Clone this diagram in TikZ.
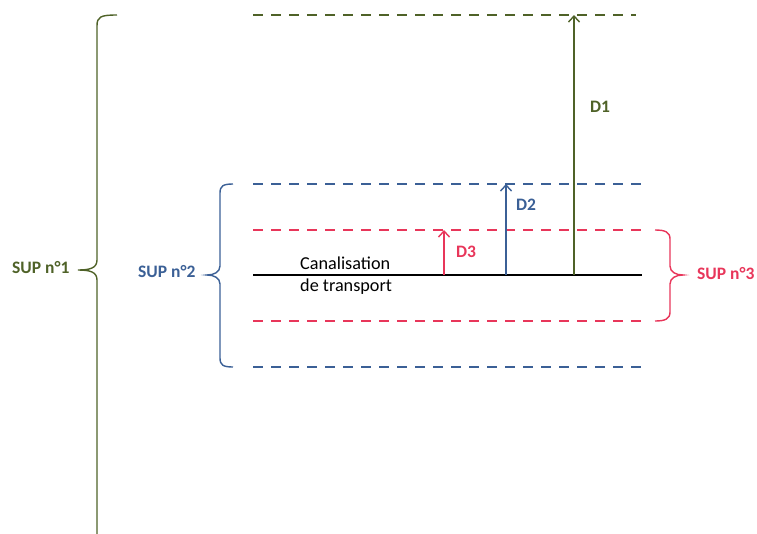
\documentclass[tikz,border=0pt]{standalone}
\usepackage{fontspec}
\setmainfont{Carlito}
\usetikzlibrary{arrows.meta}
\definecolor{supgreen}{RGB}{79,98,40}
\definecolor{supblue}{RGB}{59,96,150}
\definecolor{supred}{RGB}{232,54,90}
\tikzset{
  zone/.style={line width=2pt, dash pattern=on 10pt off 8pt},
  dist/.style={line width=1.4pt, -{Straight Barb[length=6pt,width=11pt,line width=1.4pt]}},
  lbl/.style={font=\bfseries\fontsize{17.5}{20}\selectfont, inner sep=0pt},
  brace/.style={line width=1.4pt}
}
\begin{document}
\begin{tikzpicture}[x=1pt,y=-1pt]
      \useasboundingbox (0,0) rectangle (757,533);

      % zones
      \draw[zone, supgreen] (253,15) -- (636,15);
      \foreach \y in {184,367}{
        \draw[zone, supblue] (253,\y) -- (642,\y);
      }
      \foreach \y in {230,321}{
        \draw[zone, supred] (253,\y) -- (642,\y);
      }

      % canalisation
      \coordinate (C0) at (253,275);
      \coordinate (C1) at (642,275);
      \draw[line width=2pt] (C0) -- (C1);
      \node[inner sep=0pt, anchor=west, align=left, font=\fontsize{18.2}{22}\selectfont] (can) at (300,276) {Canalisation\\de transport};

      % distances
      \coordinate (D1b) at (574,275);
      \coordinate (D1t) at (574,15);
      \coordinate (D2b) at (506,275);
      \coordinate (D2t) at (506,184);
      \coordinate (D3b) at (444,275);
      \coordinate (D3t) at (444,230);
      \draw[dist, supgreen] (D1b) -- (D1t);
      \draw[dist, supblue] (D2b) -- (D2t);
      \draw[dist, supred] (D3b) -- (D3t);
      \node[lbl, supgreen] (d1) at (600,107) {D1};
      \node[lbl, supblue] (d2) at (526,205) {D2};
      \node[lbl, supred] (d3) at (466,252) {D3};

      % braces
      \draw[brace, supgreen] (117,15) .. controls (100,15) and (97,17) .. (97,26) -- (97,260)
        .. controls (97,268) and (90,270) .. (78,270) .. controls (90,270) and (97,272) .. (97,280) -- (97,545);
      \draw[brace, supblue] (233,184) .. controls (223,184) and (220,186) .. (220,193) -- (220,266)
        .. controls (220,272) and (214,275) .. (207,275) .. controls (214,275) and (220,278) .. (220,284) -- (220,358)
        .. controls (220,365) and (223,367) .. (233,367);
      \draw[brace, supred] (655,230) .. controls (665,230) and (670,232) .. (670,239) -- (670,266)
        .. controls (670,272) and (676,275) .. (683,275) .. controls (676,275) and (670,278) .. (670,284) -- (670,312)
        .. controls (670,319) and (665,321) .. (655,321);

      \node[lbl, supgreen, anchor=west] (sup1) at (12,268) {SUP n°1};
      \node[lbl, supblue, anchor=west] (sup2) at (138,272) {SUP n°2};
      \node[lbl, supred, anchor=west] (sup3) at (697,274) {SUP n°3};
\end{tikzpicture}
\end{document}
